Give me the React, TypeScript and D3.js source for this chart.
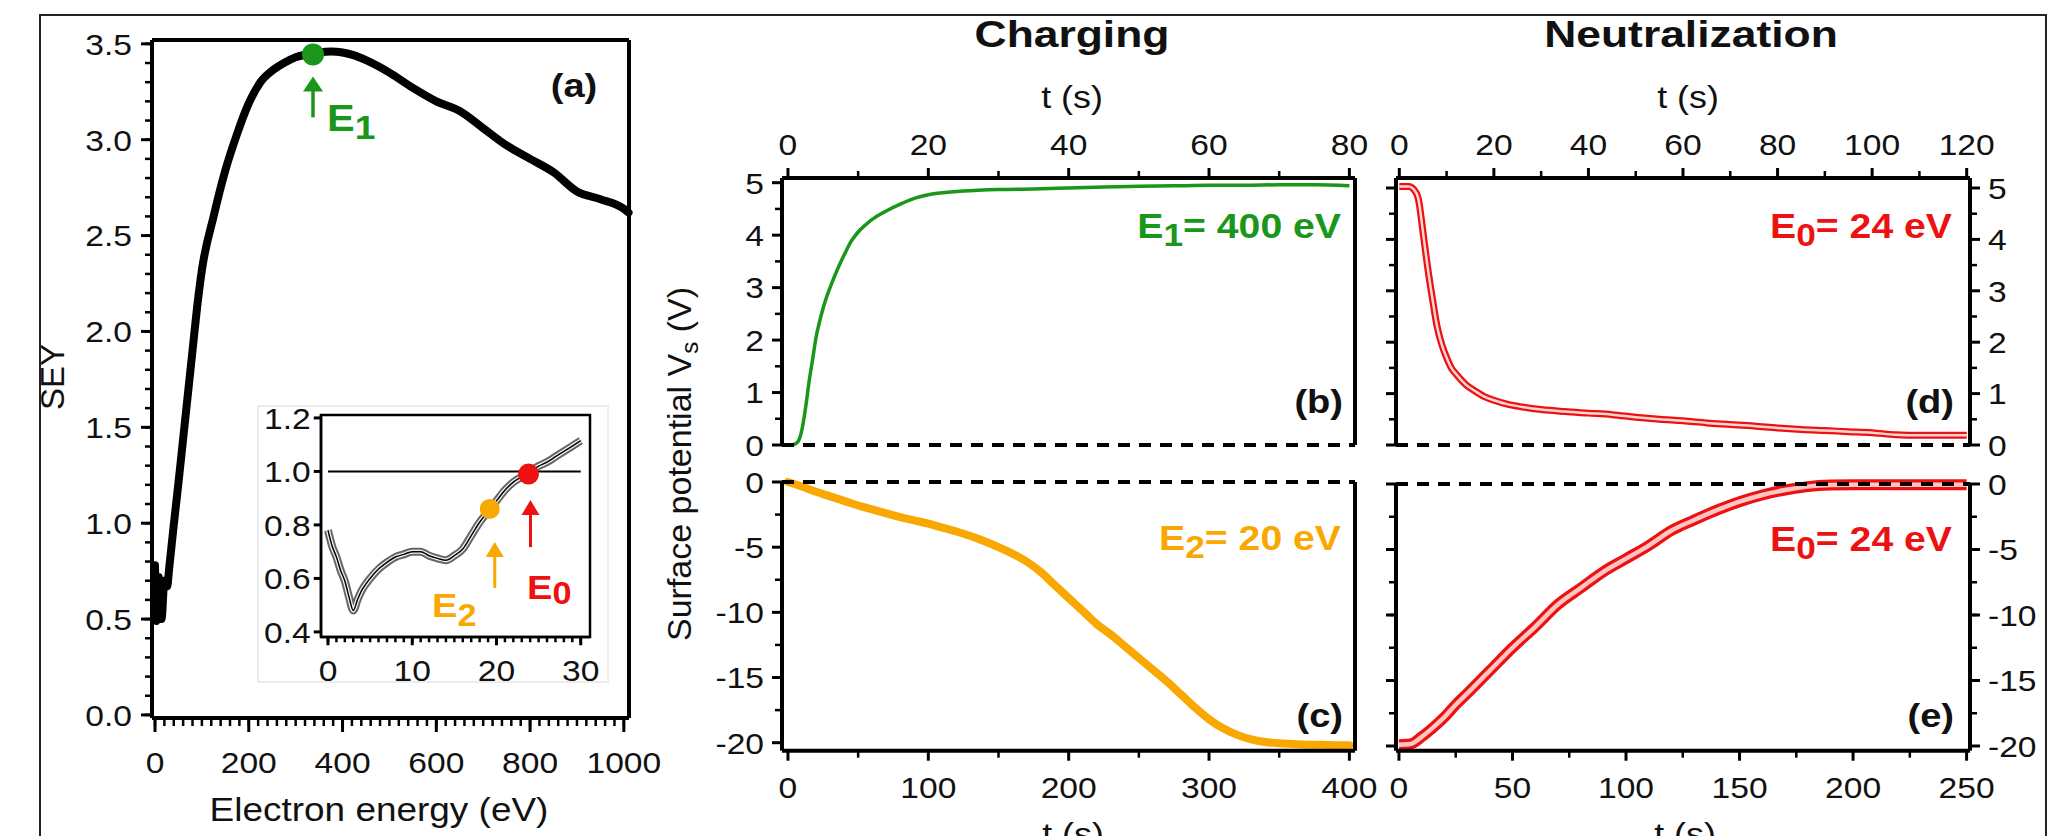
import React from "react";
import * as d3 from "d3";

// ---------------- data ----------------
const seyEnergy = [0, 3, 8, 14, 20, 26, 30, 40, 50, 60, 70, 80, 90, 100, 125, 150, 175, 200, 225, 250, 275, 300, 325, 350, 375, 400, 425, 450, 500, 550, 600, 650, 700, 750, 800, 850, 900, 950, 1000, 1010];
const seyValue = [0.78, 0.49, 0.72, 0.5, 0.7, 0.67, 0.76, 0.99, 1.21, 1.44, 1.67, 1.9, 2.13, 2.32, 2.6, 2.84, 3.03, 3.19, 3.3, 3.36, 3.4, 3.43, 3.445, 3.455, 3.46, 3.455, 3.44, 3.415, 3.35, 3.27, 3.2, 3.15, 3.06, 2.97, 2.9, 2.83, 2.73, 2.69, 2.64, 2.62];

const insetEnergy = [0, 0.5, 1, 1.5, 2, 2.5, 3, 3.5, 4, 5, 6, 7, 8, 9, 10, 11, 12, 13, 14, 15, 16, 17, 18, 19, 20, 21, 22, 23, 24, 25, 26, 27, 28, 29, 30];
const insetSey = [0.78, 0.72, 0.68, 0.63, 0.59, 0.53, 0.48, 0.52, 0.555, 0.6, 0.635, 0.66, 0.68, 0.69, 0.7, 0.7, 0.685, 0.675, 0.668, 0.685, 0.71, 0.76, 0.81, 0.85, 0.89, 0.93, 0.96, 0.98, 1.0, 1.02, 1.035, 1.055, 1.075, 1.095, 1.115];

const chargeTimeB = [0, 0.5, 1, 1.5, 2, 2.5, 3, 3.5, 4, 4.5, 5, 5.5, 6, 6.5, 7, 8, 9, 10, 11, 12, 14, 16, 18, 20, 25, 30, 35, 40, 45, 50, 55, 60, 65, 70, 75, 80];
const chargeVsB = [0, 0, 0.02, 0.08, 0.3, 0.7, 1.2, 1.62, 2.05, 2.35, 2.6, 2.82, 3.0, 3.17, 3.33, 3.62, 3.88, 4.06, 4.19, 4.3, 4.46, 4.59, 4.7, 4.77, 4.84, 4.87, 4.88, 4.9, 4.92, 4.93, 4.94, 4.95, 4.95, 4.96, 4.96, 4.94];

const chargeTimeC = [0, 10, 20, 30, 40, 50, 60, 70, 80, 90, 100, 110, 120, 130, 140, 150, 160, 170, 180, 190, 200, 210, 220, 230, 240, 250, 260, 270, 280, 290, 300, 310, 320, 330, 340, 350, 360, 370, 380, 390, 400];
const chargeVsC = [0, -0.35, -0.75, -1.1, -1.45, -1.8, -2.1, -2.4, -2.7, -2.95, -3.2, -3.5, -3.8, -4.15, -4.55, -5.0, -5.5, -6.1, -6.9, -7.9, -8.9, -9.9, -10.9, -11.7, -12.6, -13.5, -14.4, -15.3, -16.3, -17.3, -18.2, -18.9, -19.4, -19.75, -19.95, -20.05, -20.1, -20.15, -20.15, -20.2, -20.2];

const neutTimeD = [0, 1, 2, 3, 4, 5, 6, 7, 8, 9, 10, 11, 12, 14, 16, 18, 20, 23, 26, 30, 35, 40, 45, 50, 55, 60, 65, 70, 75, 80, 85, 90, 95, 100, 105, 110, 115, 120];
const neutVsD = [5.03, 5.03, 5.03, 4.98, 4.8, 4.15, 3.45, 2.85, 2.3, 1.95, 1.7, 1.5, 1.38, 1.18, 1.05, 0.94, 0.87, 0.79, 0.74, 0.69, 0.65, 0.62, 0.59, 0.54, 0.5, 0.47, 0.43, 0.4, 0.37, 0.33, 0.3, 0.28, 0.26, 0.24, 0.2, 0.19, 0.19, 0.19];

const neutTimeE = [0, 5, 10, 15, 20, 25, 30, 40, 50, 60, 70, 80, 90, 100, 110, 120, 130, 140, 150, 160, 170, 180, 190, 200, 210, 220, 230, 240, 250];
const neutVsE = [-19.9, -19.85, -19.3, -18.6, -17.8, -16.85, -16.0, -14.25, -12.5, -10.9, -9.2, -7.95, -6.7, -5.7, -4.7, -3.55, -2.75, -2.0, -1.35, -0.84, -0.46, -0.2, -0.08, -0.05, -0.05, -0.05, -0.05, -0.05, -0.05];

const seyTicksY = [0, 0.5, 1, 1.5, 2, 2.5, 3, 3.5];
const seyTicksX = [0, 200, 400, 600, 800, 1000];
const insetTicksY = [0.4, 0.6, 0.8, 1.0, 1.2];
const insetTicksX = [0, 10, 20, 30];
const bTicksX = [0, 20, 40, 60, 80];
const bTicksY = [0, 1, 2, 3, 4, 5];
const cTicksX = [0, 100, 200, 300, 400];
const cTicksY = [0, -5, -10, -15, -20];
const dTicksX = [0, 20, 40, 60, 80, 100, 120];
const dTicksY = [0, 1, 2, 3, 4, 5];
const eTicksX = [0, 50, 100, 150, 200, 250];
const eTicksY = [0, -5, -10, -15, -20];

const pointE1 = { energy: 337, sey: 3.445 };
const pointE2 = { energy: 19.2, sey: 0.86 };
const pointE0 = { energy: 23.8, sey: 0.99 };

// ---------------- style ----------------
const FONT = "'Liberation Sans', Arial, Helvetica, sans-serif";
const SX = 1.12;
const GREEN = "#1a961a";
const ORANGE = "#f8a800";
const RED = "#ee1111";
const TICK = 30;

const rng = (a: number, b: number, s: number) => {
  const n = Math.round((b - a) / s);
  return d3.range(n + 1).map((i) => +(a + i * s).toFixed(6));
};

function T(props: any) {
  const { x, y, anchor = "middle", size = TICK, weight = "normal", fill = "#111", sx = SX, children } = props;
  return (
    <text transform={`translate(${x},${y}) scale(${sx},1)`} textAnchor={anchor} fontSize={size} fontWeight={weight} fill={fill} fontFamily={FONT}>
      {children}
    </text>
  );
}

function AxisV(props: any) {
  const { x, y0, y1, scale, majors, minors = [], side, len = 8, mlen = 5, labels = false, gap = 8, fmt = (v: number) => String(v), size = TICK, sw = 4 } = props;
  const dir = side === "left" ? -1 : 1;
  return (
    <g>
      <line x1={x} x2={x} y1={y0} y2={y1} stroke="#000" strokeWidth={sw} />
      {minors.map((v: number, i: number) => (
        <line key={"m" + i} x1={x} x2={x + dir * (mlen + sw / 2)} y1={scale(v)} y2={scale(v)} stroke="#000" strokeWidth={2.5} />
      ))}
      {majors.map((v: number, i: number) => (
        <line key={"M" + i} x1={x} x2={x + dir * (len + sw / 2)} y1={scale(v)} y2={scale(v)} stroke="#000" strokeWidth={3} />
      ))}
      {labels &&
        majors.map((v: number, i: number) => (
          <T key={"L" + i} x={x + dir * (len + sw / 2 + gap)} y={scale(v) + size * 0.36} anchor={side === "left" ? "end" : "start"} size={size}>
            {fmt(v)}
          </T>
        ))}
    </g>
  );
}

function AxisH(props: any) {
  const { y, x0, x1, scale, majors, minors = [], side, len = 8, mlen = 5, labels = false, base, fmt = (v: number) => String(v), size = TICK, sw = 4 } = props;
  const dir = side === "top" ? -1 : 1;
  return (
    <g>
      <line x1={x0} x2={x1} y1={y} y2={y} stroke="#000" strokeWidth={sw} />
      {minors.map((v: number, i: number) => (
        <line key={"m" + i} x1={scale(v)} x2={scale(v)} y1={y} y2={y + dir * (mlen + sw / 2)} stroke="#000" strokeWidth={2.5} />
      ))}
      {majors.map((v: number, i: number) => (
        <line key={"M" + i} x1={scale(v)} x2={scale(v)} y1={y} y2={y + dir * (len + sw / 2)} stroke="#000" strokeWidth={3} />
      ))}
      {labels &&
        majors.map((v: number, i: number) => (
          <T key={"L" + i} x={scale(v)} y={base} size={size}>
            {fmt(v)}
          </T>
        ))}
    </g>
  );
}

function Dashed({ x0, x1, y }: any) {
  return <line x1={x0} x2={x1} y1={y} y2={y} stroke="#000" strokeWidth={4} strokeDasharray="12,9" />;
}

function Arrow({ x, yTail, yTip, color, w = 3, head = 9, hl = 15 }: any) {
  return (
    <g>
      <line x1={x} x2={x} y1={yTail} y2={yTip + hl - 2} stroke={color} strokeWidth={w} />
      <path d={`M${x},${yTip} L${x - head},${yTip + hl} L${x + head},${yTip + hl} Z`} fill={color} />
    </g>
  );
}

function SubLabel({ x, y, main, sub, rest = "", color, size, anchor = "start", subShift = 9 }: any) {
  return (
    <text transform={`translate(${x},${y}) scale(${SX},1)`} textAnchor={anchor} fontSize={size} fontWeight="bold" fill={color} fontFamily={FONT}>
      {main}
      <tspan dy={subShift} fontSize={size * 0.9}>{sub}</tspan>
      {rest ? <tspan dy={-subShift}>{rest}</tspan> : null}
    </text>
  );
}

export default function App() {
  // ---- panel (a) ----
  const xA = d3.scaleLinear().domain([-6.4, 1011]).range([152, 629]);
  const yA = d3.scaleLinear().domain([-0.016, 3.52]).range([718, 40]);
  const lineA = d3
    .line<number>()
    .x((_, i) => xA(seyEnergy[i]))
    .y((d) => yA(d))
    .curve(d3.curveMonotoneX);

  // inset
  const xI = d3.scaleLinear().domain([-0.83, 31.1]).range([321, 590]);
  const yI = d3.scaleLinear().domain([0.381, 1.211]).range([637, 415]);
  const lineI = d3
    .line<number>()
    .x((_, i) => xI(insetEnergy[i]))
    .y((d) => yI(d))
    .curve(d3.curveMonotoneX);

  // panels b-e
  const xB = d3.scaleLinear().domain([-0.85, 80.8]).range([782, 1355]);
  const yB = d3.scaleLinear().domain([0, 5]).range([445, 182.7]);
  const xC = d3.scaleLinear().domain([-4.25, 404]).range([782, 1355]);
  const yC = d3.scaleLinear().domain([0, -20]).range([482, 742.7]);
  const xD = d3.scaleLinear().domain([-0.7, 120.7]).range([1396, 1970]);
  const yD = d3.scaleLinear().domain([0, 5]).range([445, 188]);
  const xE = d3.scaleLinear().domain([-1.3, 251.5]).range([1396, 1970]);
  const yE = d3.scaleLinear().domain([0, -20]).range([484, 746]);

  const mk = (xs: number[], sx: any, sy: any) =>
    d3
      .line<number>()
      .x((_, i) => sx(xs[i]))
      .y((d) => sy(d))
      .curve(d3.curveMonotoneX);

  const pathB = mk(chargeTimeB, xB, yB)(chargeVsB) || "";
  const pathC = mk(chargeTimeC, xC, yC)(chargeVsC) || "";
  const pathD = mk(neutTimeD, xD, yD)(neutVsD) || "";
  const pathE = mk(neutTimeE, xE, yE)(neutVsE) || "";

  const [bx0, bx1] = xB.range();
  const [dx0, dx1] = xD.range();
  const topBD = 178;
  const botCE = 750.7;

  const e1x = xA(pointE1.energy);
  const e1y = yA(pointE1.sey);
  const e2x = xI(pointE2.energy);
  const e2y = yI(pointE2.sey);
  const e0x = xI(pointE0.energy);
  const e0y = yI(pointE0.sey);

  return (
    <svg width={2065} height={836} style={{ position: "absolute", left: 0, top: 0, background: "#fff" }} fontFamily={FONT}>
      <rect x={0} y={0} width={2065} height={836} fill="#fff" />
      {/* outer frame */}
      <rect x={40} y={15} width={2006} height={900} fill="none" stroke="#222" strokeWidth={2} />

      {/* ===== panel (a) ===== */}
      <path d={lineA(seyValue) || ""} fill="none" stroke="#000" strokeWidth={8} strokeLinejoin="round" strokeLinecap="round" />
      <line x1={152} x2={629} y1={40} y2={40} stroke="#000" strokeWidth={4} />
      <line x1={629} x2={629} y1={40} y2={718} stroke="#000" strokeWidth={4} />
      <AxisV x={152} y0={40} y1={718} scale={yA} majors={seyTicksY} minors={rng(0, 3.5, 0.1)} side="left" len={9} mlen={5} labels gap={9} fmt={d3.format(".1f")} />
      <AxisH y={718} x0={152} x1={629} scale={xA} majors={seyTicksX} minors={rng(0, 1000, 20)} side="bottom" len={12} mlen={6} labels base={773} />
      <T x={379} y={821} size={33}>Electron energy (eV)</T>
      <text transform="translate(64,377) rotate(-90)" textAnchor="middle" fontSize={33} fontFamily={FONT} fill="#111">SEY</text>
      <circle cx={e1x} cy={e1y} r={11} fill={GREEN} />
      <Arrow x={e1x} yTail={e1y + 63} yTip={e1y + 22} color={GREEN} w={3.5} head={10} hl={15} />
      <SubLabel x={e1x + 14} y={131} main="E" sub="1" color={GREEN} size={37} subShift={8} />
      <T x={574} y={97} size={34} weight="bold">(a)</T>

      {/* inset */}
      <rect x={258} y={406} width={350} height={276} fill="#fff" stroke="#e6e6e6" strokeWidth={1.5} />
      <line x1={xI(0)} x2={xI(30)} y1={yI(1)} y2={yI(1)} stroke="#000" strokeWidth={2} />
      <path d={lineI(insetSey) || ""} fill="none" stroke="#666" strokeWidth={8} strokeLinejoin="round" />
      <path d={lineI(insetSey) || ""} fill="none" stroke="#f4f4f4" strokeWidth={4} strokeLinejoin="round" />
      <path d={lineI(insetSey) || ""} fill="none" stroke="#000" strokeWidth={1.5} strokeLinejoin="round" />
      <rect x={321} y={415} width={269} height={222} fill="none" stroke="#000" strokeWidth={2.5} />
      <AxisV x={321} y0={415} y1={637} scale={yI} majors={insetTicksY} side="left" len={6} labels gap={3} fmt={d3.format(".1f")} sw={2.5} />
      <AxisH y={637} x0={321} x1={590} scale={xI} majors={insetTicksX} minors={rng(0, 30, 1)} side="bottom" len={7} mlen={4} labels base={681} sw={2.5} />
      <circle cx={e2x} cy={e2y} r={10} fill={ORANGE} />
      <circle cx={e0x} cy={e0y} r={10.5} fill={RED} />
      <Arrow x={e2x + 5} yTail={e2y + 79} yTip={e2y + 33} color={ORANGE} w={3} head={9} hl={15} />
      <Arrow x={e0x + 2} yTail={e0y + 73} yTip={e0y + 26} color={RED} w={3} head={9} hl={15} />
      <SubLabel x={432} y={617} main="E" sub="2" color={ORANGE} size={34} subShift={9} />
      <SubLabel x={527} y={599} main="E" sub="0" color={RED} size={34} subShift={5} />

      {/* ===== titles ===== */}
      <T x={1072} y={47} size={37} weight="bold" sx={1.2}>Charging</T>
      <T x={1691} y={47} size={37} weight="bold" sx={1.2}>Neutralization</T>
      <text transform="translate(691,464) rotate(-90)" textAnchor="middle" fontSize={34} fontFamily={FONT} fill="#111">
        Surface potential V<tspan dy={7} fontSize={24}>s</tspan>
        <tspan dy={-7}> (V)</tspan>
      </text>

      {/* ===== panel (b) ===== */}
      <path d={pathB} fill="none" stroke={GREEN} strokeWidth={3.5} strokeLinejoin="round" />
      <Dashed x0={bx0} x1={bx1} y={yB(0)} />
      <line x1={bx1} x2={bx1} y1={topBD} y2={yB(0)} stroke="#000" strokeWidth={4} />
      <AxisV x={bx0} y0={topBD} y1={yB(0)} scale={yB} majors={bTicksY} minors={rng(0.5, 4.5, 1)} side="left" labels gap={8} />
      <AxisH y={topBD} x0={bx0} x1={bx1} scale={xB} majors={bTicksX} minors={rng(10, 70, 20)} side="top" labels base={155} />
      <T x={1072} y={108} size={32}>t (s)</T>
      <SubLabel x={1341} y={238} main="E" sub="1" rest="= 400 eV" color={GREEN} size={35} anchor="end" subShift={8} />
      <T x={1343} y={413} size={34} weight="bold" anchor="end">(b)</T>

      {/* ===== panel (c) ===== */}
      <path d={pathC} fill="none" stroke={ORANGE} strokeWidth={8} strokeLinejoin="round" strokeLinecap="round" />
      <Dashed x0={bx0} x1={bx1} y={yC(0)} />
      <line x1={bx1} x2={bx1} y1={yC(0)} y2={botCE} stroke="#000" strokeWidth={4} />
      <AxisV x={bx0} y0={yC(0)} y1={botCE} scale={yC} majors={cTicksY} minors={rng(-17.5, -2.5, 5)} side="left" labels gap={8} />
      <AxisH y={botCE} x0={bx0} x1={bx1} scale={xC} majors={cTicksX} minors={rng(50, 350, 100)} side="bottom" labels base={798} />
      <T x={1073} y={845} size={32}>t (s)</T>
      <SubLabel x={1341} y={550} main="E" sub="2" rest="= 20 eV" color={ORANGE} size={35} anchor="end" subShift={8} />
      <T x={1343} y={727} size={34} weight="bold" anchor="end">(c)</T>

      {/* ===== panel (d) ===== */}
      <path d={pathD} fill="none" stroke={RED} strokeWidth={7} strokeLinejoin="round" />
      <path d={pathD} fill="none" stroke="#ffd6d6" strokeWidth={2.5} strokeLinejoin="round" />
      <Dashed x0={dx0} x1={dx1} y={yD(0)} />
      <AxisV x={dx0} y0={topBD} y1={yD(0)} scale={yD} majors={dTicksY} minors={rng(0.5, 4.5, 1)} side="left" />
      <AxisV x={dx1} y0={topBD} y1={yD(0)} scale={yD} majors={dTicksY} minors={rng(0.5, 4.5, 1)} side="right" labels gap={8} />
      <AxisH y={topBD} x0={dx0} x1={dx1} scale={xD} majors={dTicksX} minors={rng(10, 110, 20)} side="top" labels base={155} />
      <T x={1688} y={108} size={32}>t (s)</T>
      <SubLabel x={1952} y={238} main="E" sub="0" rest="= 24 eV" color={RED} size={35} anchor="end" subShift={8} />
      <T x={1954} y={413} size={34} weight="bold" anchor="end">(d)</T>

      {/* ===== panel (e) ===== */}
      <path d={pathE} fill="none" stroke={RED} strokeWidth={11} strokeLinejoin="round" />
      <path d={pathE} fill="none" stroke="#ffc4c4" strokeWidth={4.5} strokeLinejoin="round" />
      <Dashed x0={dx0} x1={dx1} y={yE(0)} />
      <AxisV x={dx0} y0={yE(0)} y1={botCE} scale={yE} majors={eTicksY} minors={rng(-17.5, -2.5, 2.5)} side="left" />
      <AxisV x={dx1} y0={yE(0)} y1={botCE} scale={yE} majors={eTicksY} minors={rng(-17.5, -2.5, 2.5)} side="right" labels gap={8} />
      <AxisH y={botCE} x0={dx0} x1={dx1} scale={xE} majors={eTicksX} minors={rng(25, 225, 50)} side="bottom" labels base={798} />
      <T x={1685} y={845} size={32}>t (s)</T>
      <SubLabel x={1952} y={551} main="E" sub="0" rest="= 24 eV" color={RED} size={35} anchor="end" subShift={8} />
      <T x={1954} y={727} size={34} weight="bold" anchor="end">(e)</T>
    </svg>
  );
}
